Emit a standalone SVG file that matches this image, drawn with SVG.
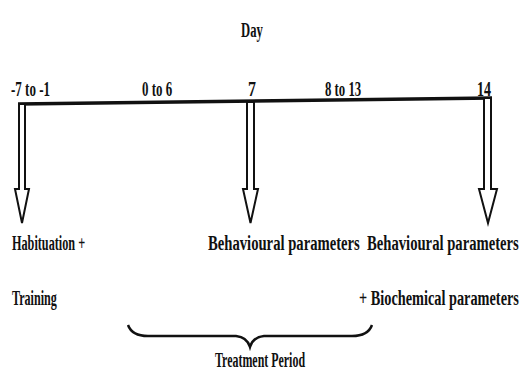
<svg xmlns="http://www.w3.org/2000/svg" width="522" height="371" viewBox="0 0 522 371">
<style>
text{font-family:"Liberation Serif","Times New Roman",serif;font-weight:bold;fill:#111;}
.s{font-size:20px;}
.l{font-size:22px;}
.arrow{fill:#fff;stroke:#111;stroke-width:2;}
</style>
<rect width="522" height="371" fill="#fff"/>
<g id="title"><text class="s" transform="translate(252,37) scale(0.64,1)" text-anchor="middle" textLength="34" lengthAdjust="spacingAndGlyphs">Day</text></g>
<g id="timeline">
<line x1="18" y1="104" x2="492" y2="98" stroke="#111" stroke-width="3.5"/>
<text class="s" transform="translate(11,96) scale(0.65,1)" textLength="60" lengthAdjust="spacingAndGlyphs">-7 to -1</text>
<text class="s" transform="translate(142,96) scale(0.64,1)" textLength="47" lengthAdjust="spacingAndGlyphs">0 to 6</text>
<text class="s" transform="translate(252,96) scale(0.8,1)" text-anchor="middle" textLength="10" lengthAdjust="spacingAndGlyphs">7</text>
<text class="s" transform="translate(325,96) scale(0.635,1)" textLength="57" lengthAdjust="spacingAndGlyphs">8 to 13</text>
<text class="s" transform="translate(477,96) scale(0.7,1)" textLength="20" lengthAdjust="spacingAndGlyphs">14</text>
</g>
<g id="connectors">
<path class="arrow" d="M19,104 L25,104 L25,189 L29,189 L22,223 L15,189 L19,189 Z"/>
<path class="arrow" d="M247,102 L254,102 L254,189 L258,189 L250.5,223 L243,189 L247,189 Z"/>
<path class="arrow" d="M484,98 L491,98 L491,189 L497,189 L488,223 L479,189 L484,189 Z"/>
</g>
<g id="n1">
<text class="l" transform="translate(12,250) scale(0.554,1)" textLength="132" lengthAdjust="spacingAndGlyphs">Habituation +</text>
<text class="l" transform="translate(12,305) scale(0.54,1)" textLength="83" lengthAdjust="spacingAndGlyphs">Training</text>
</g>
<g id="n2">
<text class="l" transform="translate(208,250) scale(0.66,1)" textLength="230" lengthAdjust="spacingAndGlyphs">Behavioural parameters</text>
</g>
<g id="n3">
<text class="l" transform="translate(367,250) scale(0.66,1)" textLength="230" lengthAdjust="spacingAndGlyphs">Behavioural parameters</text>
<text class="l" transform="translate(359,305) scale(0.65,1)" textLength="246" lengthAdjust="spacingAndGlyphs">+ Biochemical parameters</text>
</g>
<g id="brace">
<path d="M128,325 Q132,336 148,336 L236,336 Q247,337 250,347 Q253,337 264,336 L352,336 Q368,336 372,325" fill="none" stroke="#111" stroke-width="2.5"/>
<text class="l" transform="translate(215,367) scale(0.536,1)" textLength="168" lengthAdjust="spacingAndGlyphs">Treatment Period</text>
</g>
</svg>
